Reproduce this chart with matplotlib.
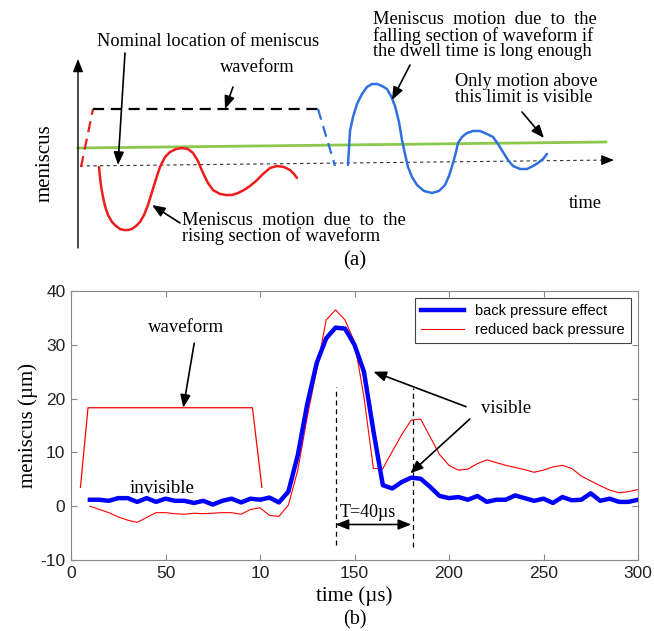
import numpy as np
import matplotlib
matplotlib.use('Agg')
import matplotlib.pyplot as plt

plt.rcParams['axes.unicode_minus'] = False
SERIF = ['Liberation Serif', 'DejaVu Serif']
SANS = ['Liberation Sans', 'DejaVu Sans']

# ---------------- panel (b): values ----------------
t_us = np.arange(10, 305, 5)
back_pressure = [1.2, 1.2, 1.0, 1.5, 1.5, 0.8, 1.5, 0.8, 1.4, 1.0,
                 1.0, 0.6, 1.0, 0.3, 1.0, 1.4, 0.7, 1.4, 1.2, 1.6,
                 0.7, 2.7, 9.5, 19.0, 26.6, 31.2, 33.2, 33.0, 30.0, 25.0,
                 14.0, 3.9, 3.3, 4.5, 5.3, 5.1, 3.6, 1.9, 1.5, 1.7,
                 1.2, 1.9, 0.8, 1.2, 1.2, 2.0, 1.5, 1.0, 1.4, 0.6,
                 1.7, 1.1, 1.2, 2.4, 1.0, 1.4, 0.8, 0.8, 1.2]
reduced_bp = [0.0, -0.6, -1.2, -2.0, -2.6, -3.0, -2.1, -1.2, -1.2, -1.4,
              -1.5, -1.3, -1.4, -1.3, -1.2, -1.2, -1.5, -0.6, -0.3, -1.7,
              -1.9, 0.2, 6.7, 16.6, 25.3, 34.6, 36.5, 34.6, 30.5, 20.3,
              7.0, 7.0, 10.2, 13.3, 16.0, 16.2, 12.9, 9.6, 7.6, 6.7,
              6.9, 7.9, 8.6, 8.1, 7.6, 7.2, 6.8, 6.3, 6.7, 7.3,
              7.6, 7.0, 5.6, 4.7, 3.8, 3.0, 2.5, 2.7, 3.1]
wave_t = [5, 9, 96, 101]
wave_v = [3.5, 18.3, 18.3, 3.5]
peak_t = [140, 181]
xtick_vals = [0, 50, 100, 150, 200, 250, 300]
xtick_labels = ['0', '50', '10', '150', '200', '250', '300']
ytick_vals = [-10, 0, 10, 20, 30, 40]

# ---------------- panel (a): schematic, in picture pixels ----------------
rise_x = [99, 100, 101, 103, 105, 108, 112, 116, 120, 124, 128, 132, 136, 140,
          144, 148, 152, 156, 160, 165, 170, 176, 182, 188, 193, 198, 203, 208,
          213, 220, 226, 232, 238, 244, 250, 256, 263, 270, 277, 284, 290, 294, 297]
rise_y = [167, 177, 186, 197, 206, 215, 222, 226, 229, 230, 230, 229, 226, 222,
          215, 205, 192, 179, 167, 157, 152, 149, 148, 149, 153, 161, 173, 183,
          190, 194, 195, 195, 193, 190, 186, 181, 174, 168, 166, 167, 170, 174, 178]
fall_x = [348, 349, 350, 353, 357, 362, 367, 372, 377, 382, 387, 391, 395, 399,
          402, 405, 408, 412, 417, 424, 432, 439, 445, 449, 453, 456, 458, 462,
          467, 473, 480, 487, 493, 498, 503, 508, 513, 520, 527, 533, 538, 543, 547]
fall_y = [165, 148, 131, 117, 104, 94, 87, 84, 84, 86, 89, 96, 106, 122,
          140, 154, 167, 177, 185, 191, 193, 191, 185, 176, 163, 152, 143, 137,
          133, 131, 131, 134, 137, 144, 152, 160, 166, 169, 169, 166, 163, 159, 154]
wave_a_x = [81, 93, 318, 335]
wave_a_y = [167, 109, 109, 166]

fig = plt.figure(figsize=(6.54, 6.31), dpi=100)

# ---------- (a) ----------
ax_a = fig.add_axes([0, 1 - 290 / 631, 1, 290 / 631])
ax_a.set_xlim(0, 654)
ax_a.set_ylim(290, 0)
ax_a.axis('off')

def arrow(ax, start, end, style='-|>', lw=1.2, color='k'):
    ax.annotate('', xy=end, xytext=start,
                arrowprops=dict(arrowstyle=style + ',head_length=0.55,head_width=0.22',
                                color=color, lw=lw, shrinkA=0, shrinkB=0,
                                mutation_scale=14))

arrow(ax_a, (78, 248), (78, 59), lw=1.0)
ax_a.plot([80, 603], [166, 160.1], color='#333333', lw=0.8, ls=(0, (3, 3)))
arrow(ax_a, (603, 160.1), (614, 160), lw=0.8)
ax_a.plot([78, 606], [148, 142], color='#8cc84b', lw=2)

ax_a.plot(wave_a_x[:2], wave_a_y[:2], color='#ee1c1c', lw=1.6, ls=(0, (5, 3)))
ax_a.plot(wave_a_x[1:3], wave_a_y[1:3], color='k', lw=1.6, ls=(0, (5, 3)))
ax_a.plot(wave_a_x[2:], wave_a_y[2:], color='#2f6fe0', lw=1.6, ls=(0, (5, 3)))
ax_a.plot(rise_x, rise_y, color='#ee1c1c', lw=1.8, solid_capstyle='round',
          solid_joinstyle='round')
ax_a.plot(fall_x, fall_y, color='#2f6fe0', lw=1.8, solid_capstyle='round',
          solid_joinstyle='round')

fs = 13.2
ax_a.text(97, 45.5, 'Nominal location of meniscus', fontsize=fs, family=SERIF)
arrow(ax_a, (125, 53), (118, 165))
ax_a.text(257, 72.5, 'waveform', fontsize=fs, family=SERIF, ha='center')
arrow(ax_a, (233, 87), (225, 109))
ax_a.text(45, 163, 'meniscus', fontsize=15, family=SERIF, rotation=90,
          ha='center', va='center')
ax_a.text(585, 208, 'time', fontsize=fs, family=SERIF, ha='center')

# multi-line notes: one text each, top-anchored, tight spacing as in the figure
ax_a.text(182, 212, 'Meniscus  motion  due  to  the\nrising section of waveform',
          fontsize=fs, family=SERIF, va='top', linespacing=0.88)
arrow(ax_a, (180, 223), (152, 205))

ax_a.text(373, 11.5, 'Meniscus  motion  due  to  the\nfalling section of waveform if\n'
          'the dwell time is long enough',
          fontsize=fs, family=SERIF, va='top', linespacing=0.88)
arrow(ax_a, (410, 65), (392, 100))

ax_a.text(455, 73.5, 'Only motion above\nthis limit is visible',
          fontsize=fs, family=SERIF, va='top', linespacing=0.88)
arrow(ax_a, (522, 112), (544, 138))

ax_a.text(355, 265, '(a)', fontsize=15, family=SERIF, ha='center')

# ---------- (b) ----------
ax = fig.add_axes([71 / 654, 71 / 631, 567 / 654, 269 / 631])
ax.plot(t_us, reduced_bp, color='#ff0000', lw=0.8, label='reduced back pressure', zorder=2)
ax.plot(t_us, back_pressure, color='#0000ff', lw=3.2, label='back pressure effect', zorder=3)
ax.plot(wave_t, wave_v, color='#ff0000', lw=0.9)

ax.plot([peak_t[0]] * 2, [-7.2, 22.2], color='k', lw=0.9, ls=(0, (4, 3)))
ax.plot([peak_t[1]] * 2, [-7.6, 21.9], color='k', lw=0.9, ls=(0, (4, 3)))
arrow(ax, (peak_t[0], -3.4), (peak_t[1] - 1, -3.4), style='<|-|>', lw=1.2)
ax.text(142, -2.0, 'T=40µs', fontsize=13, family=SERIF)

ax.text(217, 18.2, 'visible', fontsize=13.5, family=SERIF, va='center')
arrow(ax, (209, 18.5), (160, 25))
arrow(ax, (211, 16.2), (179.5, 6.1))
ax.text(61, 33.2, 'waveform', fontsize=13.5, family=SERIF, ha='center', va='center')
arrow(ax, (65.2, 30.3), (59.4, 18.3))
ax.text(48, 3.3, 'invisible', fontsize=13.5, family=SERIF, ha='center', va='center')

ax.set_xlim(0, 300)
ax.set_ylim(-10, 40)
ax.set_xticks(xtick_vals)
ax.set_xticklabels(xtick_labels)
ax.set_yticks(ytick_vals)
ax.tick_params(direction='in', top=True, right=True, length=4, color='#888888',
               labelsize=12.5, labelcolor='#222222', pad=4)
for lab in ax.get_xticklabels() + ax.get_yticklabels():
    lab.set_family(SANS)
for sp in ax.spines.values():
    sp.set_color('#888888')

ax.set_xlabel('time (µs)', fontsize=15, family=SERIF, labelpad=4)
ax.set_ylabel('meniscus (µm)', fontsize=15, family=SERIF, labelpad=2)

handles, labels = ax.get_legend_handles_labels()
leg = ax.legend(handles[::-1], labels[::-1], loc='upper right',
                prop={'family': SANS, 'size': 10.5}, fancybox=False,
                edgecolor='#444444', framealpha=1, handlelength=2.9,
                borderaxespad=0.5, borderpad=0.4, labelspacing=0.35)
leg.get_frame().set_linewidth(0.8)

fig.text(355 / 654, 1 - 620 / 631, '(b)', fontsize=14.5, family=SERIF,
         ha='center', va='center')

fig.savefig('out.png', dpi=100)
